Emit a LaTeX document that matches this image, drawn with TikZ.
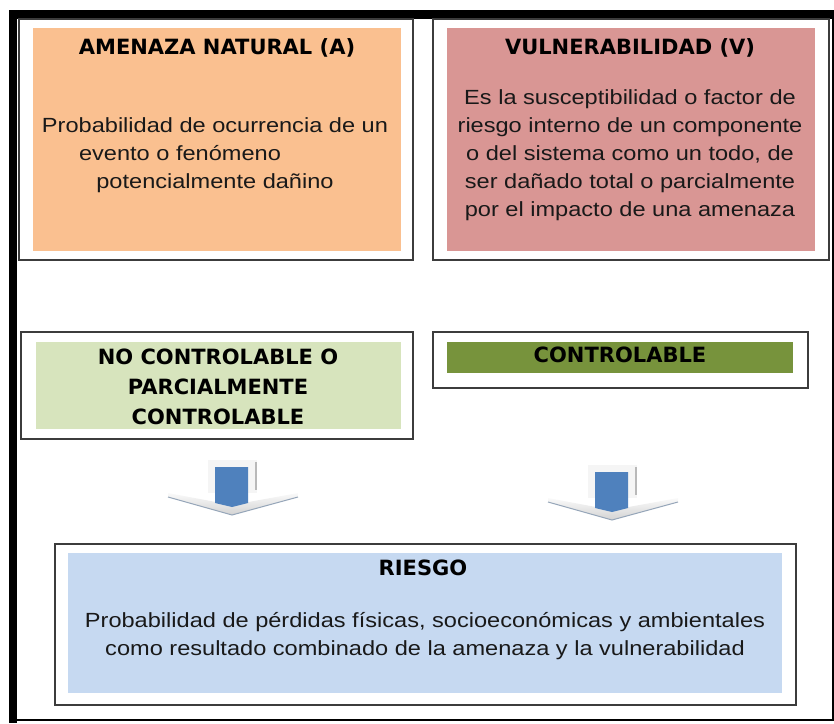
\documentclass[tikz,border=0pt]{standalone}
\usepackage{fontspec}
\usepackage{xcolor}
\setmainfont{Liberation Sans}
\newfontfamily\headfont{DejaVu Sans}
\newfontfamily\bodyfont[FakeStretch=1.15]{Liberation Sans}
\definecolor{amenaza}{RGB}{250,192,144}
\definecolor{vulner}{RGB}{217,150,148}
\definecolor{nocontrol}{RGB}{215,228,189}
\definecolor{control}{RGB}{119,147,60}
\definecolor{riesgo}{RGB}{198,217,241}
\definecolor{arrowblue}{RGB}{79,129,189}
\definecolor{boxline}{RGB}{60,60,60}

\tikzset{
  outerbox/.style={draw=boxline, line width=1.6pt},
  headtxt/.style={anchor=base, inner sep=0pt, font=\headfont\bfseries\fontsize{21}{25}\selectfont},
  bodytxt/.style={anchor=base, inner sep=0pt, text=black!90, font=\bodyfont\fontsize{20.5}{28}\selectfont},
  downarrow/.pic={
    \fill[gray!8] (-24,0) rectangle (25,33);
    \draw[gray!55, line width=1.5pt] (24,2) -- (24,30);
    \shade[top color=gray!4, bottom color=gray!35] (-64,33) -- (0,45) -- (66,33) -- (66,37) -- (0,55) -- (-64,37) -- cycle;
    \draw[arrowblue!45!gray!70, line width=1pt] (-64,37) -- (0,55) -- (66,37);
    \fill[arrowblue] (-17,7) -- (16,7) -- (16,43) -- (0,47) -- (-17,43) -- cycle;
  }
}

\begin{document}
\begin{tikzpicture}[x=1pt, y=-1pt]
    \useasboundingbox (0,0) rectangle (834,723);

    % Outer frame
    \fill[black] (9,10) rectangle (834,19);
    \fill[black] (9,10) rectangle (17,723);
    \draw[black, line width=1.5pt] (17,720) -- (834,720);
    \draw[black, line width=1.5pt] (833,19) -- (833,720);

    % Amenaza natural
    \draw[outerbox] (19,19) rectangle (413,260);
    \fill[amenaza] (33,28) rectangle (401,251);
    \node[headtxt] (ahead) at (217,54) {AMENAZA NATURAL (A)};
    \node[bodytxt] (abody1) at (215,132) {Probabilidad de ocurrencia de un};
    \node[bodytxt] (abody2) at (180,160) {evento o fenómeno};
    \node[bodytxt] (abody3) at (215,188) {potencialmente dañino};

    % Vulnerabilidad
    \draw[outerbox] (433,19) rectangle (829,260);
    \fill[vulner] (447,28) rectangle (815,251);
    \node[headtxt] (vhead) at (630,54) {VULNERABILIDAD (V)};
    \node[bodytxt] (vbody1) at (630,104) {Es la susceptibilidad o factor de};
    \node[bodytxt] (vbody2) at (630,132) {riesgo interno de un componente};
    \node[bodytxt] (vbody3) at (630,160) {o del sistema como un todo, de};
    \node[bodytxt] (vbody4) at (630,188) {ser dañado total o parcialmente};
    \node[bodytxt] (vbody5) at (630,216) {por el impacto de una amenaza};

    % No controlable
    \draw[outerbox] (21,332) rectangle (413,439);
    \fill[nocontrol] (36,342) rectangle (401,429);
    \node[headtxt] (nc1) at (218,364) {NO CONTROLABLE O};
    \node[headtxt] (nc2) at (218,394) {PARCIALMENTE};
    \node[headtxt] (nc3) at (218,424) {CONTROLABLE};

    % Controlable
    \draw[outerbox] (433,332) rectangle (808,388);
    \fill[control] (447,342) rectangle (793,373);
    \node[headtxt] (ctrl) at (620,362) {CONTROLABLE};

    % Flechas
    \pic (arrowL) at (232,460) {downarrow};
    \pic (arrowR) at (612,465) {downarrow};

    % Riesgo
    \draw[outerbox] (55,544) rectangle (796,705);
    \fill[riesgo] (68,553) rectangle (782,693);
    \node[headtxt] (rhead) at (423,575) {RIESGO};
    \node[bodytxt] (rbody1) at (425,627) {Probabilidad de pérdidas físicas, socioeconómicas y ambientales};
    \node[bodytxt] (rbody2) at (425,655) {como resultado combinado de la amenaza y la vulnerabilidad};
\end{tikzpicture}
\end{document}
